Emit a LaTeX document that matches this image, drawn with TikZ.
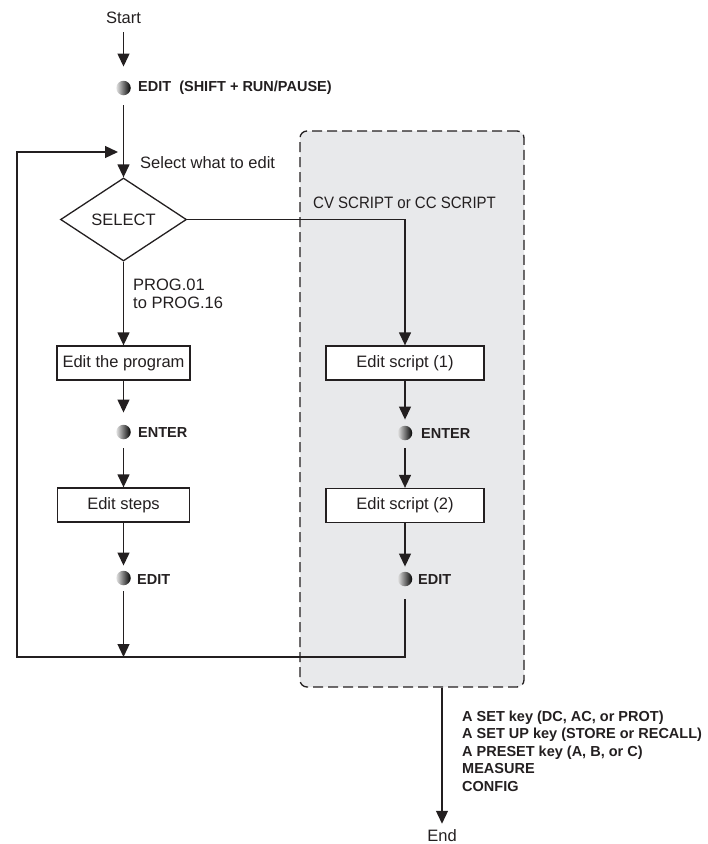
\documentclass[tikz,border=0pt]{standalone}
\usepackage{fontspec}
\setmainfont{Liberation Sans}
\usetikzlibrary{shapes.geometric,arrows.meta}
\definecolor{ink}{RGB}{35,31,32}
\definecolor{grpfill}{RGB}{232,233,235}
\begin{document}
\begin{tikzpicture}[x=1pt,y=-1pt,
  ln/.style={line width=1.3pt, draw=ink},
  arr/.style={ln, -{Triangle[length=13pt,width=12pt]}},
  txt/.style={font=\fontsize{16.5}{18}\selectfont, inner sep=0pt, text=ink},
  btxt/.style={font=\bfseries\fontsize{14.5}{17.5}\selectfont, inner sep=0pt, text=ink},
  stepbox/.style={draw=ink, line width=1.3pt, fill=white, minimum height=34pt, inner sep=0pt, font=\fontsize{16.5}{18}\selectfont, text=ink},
  keyc/.style={circle, minimum size=14.5pt, inner sep=0pt, left color=gray!22, middle color=black!95, right color=black}
]
\useasboundingbox (0,0) rectangle (708,844);

% group (dashed) box
\node[rectangle, rounded corners=7pt, draw=ink, line width=1.3pt, dash pattern=on 10pt off 5pt,
      fill=grpfill, minimum width=224pt, minimum height=556pt, inner sep=0pt] (grp) at (412,409) {};

% left column
\node[txt] (start) at (123.5,18) {Start};
\node[keyc] (k1) at (123.5,88) {};
\node[btxt, anchor=west] (k1t) at (138,88) {EDIT\ \ (SHIFT + RUN/PAUSE)};
\node[txt, anchor=west] (selt) at (140,163) {Select what to edit};
\node[diamond, draw=ink, line width=1.3pt, fill=white, aspect=1.52, minimum width=126pt, minimum height=83pt,
      inner sep=0pt, font=\fontsize{16.5}{18}\selectfont, text=ink] (sel) at (123.5,219.5) {SELECT};
\node[txt, anchor=west, align=left] (prog) at (133,294) {PROG.01\\to PROG.16};
\node[stepbox, minimum width=133pt] (edp) at (123.5,363) {Edit the program};
\node[keyc] (k2) at (123.5,432) {};
\node[btxt, anchor=west] (k2t) at (138,433) {ENTER};
\node[stepbox, minimum width=132pt] (steps) at (123.5,505) {Edit steps};
\node[keyc] (k3) at (123.5,578) {};
\node[btxt, anchor=west] (k3t) at (137,580) {EDIT};

% right column
\node[txt, anchor=west] (cvt) at (313,203) {\scalebox{0.91}[1]{CV SCRIPT or CC SCRIPT}};
\node[stepbox, minimum width=158pt] (s1) at (405,363) {Edit script (1)};
\node[keyc] (k4) at (405,433) {};
\node[btxt, anchor=west] (k4t) at (421,434) {ENTER};
\node[stepbox, minimum width=158pt] (s2) at (405,505.5) {Edit script (2)};
\node[keyc] (k5) at (405,579) {};
\node[btxt, anchor=west] (k5t) at (418,580) {EDIT};

% exit
\node[btxt, anchor=west, align=left] (keys) at (462,751)
  {A SET key (DC, AC, or PROT)\\A SET UP key (STORE or RECALL)\\A PRESET key (A, B, or C)\\MEASURE\\CONFIG};
\node[txt] (endn) at (442,836) {End};

\coordinate (bot) at (123.5,657);
\coordinate (lc) at (17,657);
\coordinate (jn) at (118,152);

% connectors
\draw[arr, shorten <=8pt, shorten >=14pt] (start) -- (k1);
\draw[arr, shorten <=10pt] (k1) -- (sel);
\draw[arr, shorten <=13pt] (k5) |- (lc) |- (jn);
\draw[arr] (sel) -- (edp);
\draw[arr, shorten >=12pt] (edp) -- (k2);
\draw[arr, shorten <=9pt] (k2) -- (steps);
\draw[arr, shorten >=5pt] (steps) -- (k3);
\draw[arr, shorten <=6pt] (k3) -- (bot);
\draw[arr] (sel.east) -| (s1.north);
\draw[arr, shorten >=6pt] (s1) -- (k4);
\draw[arr, shorten <=8pt] (k4) -- (s2);
\draw[arr, shorten >=5pt] (s2) -- (k5);
\draw[arr, shorten >=6pt] ([xshift=30pt]grp.south) -- (endn);
\end{tikzpicture}
\end{document}
